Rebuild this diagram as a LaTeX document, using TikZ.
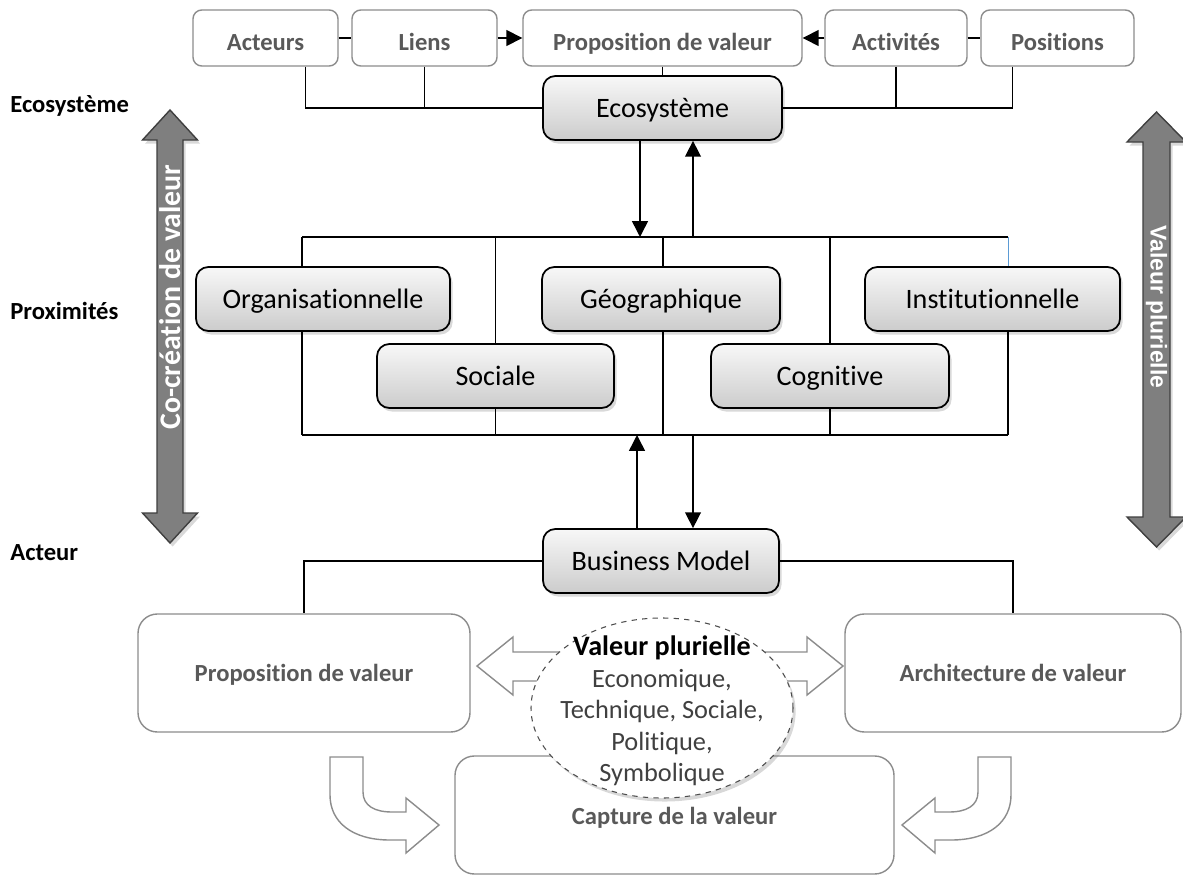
\documentclass[tikz,border=0pt]{standalone}
\usepackage{fontspec}
\setmainfont{Carlito}[Ligatures=NoCommon]
\newfontfamily\arialfont{Liberation Sans}
\usetikzlibrary{arrows.meta,shadows,shapes.geometric}
\definecolor{boxgrey}{HTML}{8C8C8C}
\definecolor{txtgrey}{HTML}{595959}
\definecolor{arrgrey}{HTML}{7F7F7F}
\definecolor{arrdark}{HTML}{3F3F3F}
\definecolor{elltxt}{HTML}{404040}
\definecolor{thinblue}{HTML}{5B9BD5}
\def\pxu{0.02cm}
\tikzset{
  topbox/.style={draw=boxgrey, line width=0.8pt, fill=white, rounded corners=5pt, text=txtgrey,
    font=\bfseries\fontsize{14}{17}\selectfont, minimum height=56*\pxu, inner sep=0pt,
    text height=1.4em, text depth=0pt},
  proxbox/.style={draw=black, line width=1pt, rounded corners=7pt, top color=gray!6, bottom color=gray!40,
    drop shadow={opacity=0.3, shadow xshift=1.5pt, shadow yshift=-2pt},
    font=\fontsize{16}{19}\selectfont, minimum height=64*\pxu, inner sep=0pt,
    text height=1.1em, text depth=0pt},
  bigbox/.style={draw=boxgrey, line width=0.8pt, fill=white, rounded corners=11pt, text=txtgrey,
    font=\bfseries\fontsize{14}{17}\selectfont, minimum height=118*\pxu, inner sep=0pt,
    text height=1.0em, text depth=0pt},
  levellabel/.style={anchor=west, font=\bfseries\fontsize{14}{17}\selectfont, inner sep=0pt},
  conn/.style={draw=black, line width=0.85pt},
  arr/.style={conn, -{Triangle[length=9pt,width=9pt]}},
  hollow/.style={draw=boxgrey, line width=0.8pt, fill=white, line join=miter},
  bigarrow/.style={draw=arrdark, line width=0.8pt, fill=arrgrey,
    drop shadow={opacity=0.3, shadow xshift=1.5pt, shadow yshift=-2pt}}
}
\begin{document}
\begin{tikzpicture}[x=0.02cm, y=-0.02cm]
\useasboundingbox (0,0) rectangle (1183,875);
% level labels
\node[levellabel] (lecosys) at (10,106) {Ecosystème};
\node[levellabel] (lprox) at (10,311) {Proximités};
\node[levellabel] (lacteur) at (10,553) {Acteur};
% big double arrows on both sides
\draw[bigarrow] (170,110) -- (197.5,140) -- (183,140) -- (183,513) -- (197.5,513) -- (170,543)
  -- (142.5,513) -- (157,513) -- (157,140) -- (142.5,140) -- cycle;
\node[rotate=90, text=white, font=\bfseries\fontsize{17}{20}\selectfont] (cocrea) at (170,297) {Co-création de valeur};
\draw[bigarrow] (1156.5,112) -- (1186,142) -- (1170,142) -- (1170,517) -- (1186,517) -- (1156.5,547)
  -- (1127,517) -- (1143,517) -- (1143,142) -- (1127,142) -- cycle;
\node[rotate=-90, text=white, font=\arialfont\bfseries\fontsize{13}{16}\selectfont] (valplur) at (1156.5,307) {Valeur plurielle};
% top row
\node[topbox, minimum width=145*\pxu] (acteurs) at (265.5,38) {Acteurs};
\node[topbox, minimum width=145*\pxu] (liens) at (424.5,38) {Liens};
\node[topbox, minimum width=279*\pxu] (propv) at (662.5,38) {Proposition de valeur};
\node[topbox, minimum width=142*\pxu] (activ) at (896,38) {Activités};
\node[topbox, minimum width=153*\pxu] (posit) at (1057.5,38) {Positions};
\draw[conn] (acteurs) -- (liens);
\draw[arr] (liens) -- (propv);
\draw[arr] (activ) -- (propv);
\draw[conn] (activ) -- (posit);
% ecosystem
\node[proxbox, minimum width=239*\pxu] (eco) at (662.5,108) {Ecosystème};
\draw[conn] (propv) -- (eco);
\draw[conn] ([xshift=0.8cm]acteurs.south) |- (eco.west);
\draw[conn] (liens.south) -- (liens.south |- eco.west);
\draw[conn] ([xshift=-0.9cm]posit.south) |- (eco.east);
\draw[conn] (activ.south) -- (activ.south |- eco.east);
% proximities
\node[proxbox, minimum width=254*\pxu] (org) at (323,299) {Organisationnelle};
\node[proxbox, minimum width=238*\pxu] (geo) at (661,299) {Géographique};
\node[proxbox, minimum width=255*\pxu] (inst) at (992.5,299) {Institutionnelle};
\node[proxbox, minimum width=237*\pxu] (soc) at (495.5,376) {Sociale};
\node[proxbox, minimum width=238*\pxu] (cog) at (830,376) {Cognitive};
\coordinate (ftl) at (302,237);
\coordinate (ftr) at (1008,237);
\coordinate (fbl) at (302,435);
\coordinate (fbr) at (1008,435);
\draw[conn] (ftl) -- (ftr);
\draw[conn] (fbl) -- (fbr);
\draw[conn] (ftl) -- (ftl |- org.north);
\draw[conn] (ftl |- org.south) -- (fbl);
\draw[conn] (soc.north) -- (soc.north |- ftl);
\draw[conn] (soc.south) -- (soc.south |- fbl);
\draw[conn] ([xshift=0.04cm]geo.north) -- ([xshift=0.04cm]geo.north |- ftl);
\draw[conn] ([xshift=0.04cm]geo.south) -- ([xshift=0.04cm]geo.south |- fbl);
\draw[conn] (cog.north) -- (cog.north |- ftl);
\draw[conn] (cog.south) -- (cog.south |- fbl);
\draw[thinblue, line width=0.5pt] (ftr) -- (ftr |- inst.north);
\draw[conn] (fbr |- inst.south) -- (fbr);
% links to ecosystem and business model
\coordinate (ed) at (640,237);
\coordinate (eu) at (693,237);
\coordinate (bu) at (637,435);
\coordinate (bd) at (693,435);
\draw[arr] (ed |- eco.south) -- (ed);
\draw[arr] (eu) -- (eu |- eco.south);
\node[proxbox, minimum width=236*\pxu] (bm) at (661,561) {Business Model};
\draw[arr] (bu |- bm.north) -- (bu);
\draw[arr] (bd) -- (bd |- bm.north);
% actor level
\node[bigbox, minimum width=332*\pxu] (pv) at (304,673) {Proposition de valeur};
\node[bigbox, minimum width=336*\pxu] (av) at (1013,673) {Architecture de valeur};
\node[bigbox, minimum width=439*\pxu, text height=1.12em] (cap) at (674.5,815) {Capture de la valeur};
\draw[conn] (bm.west) -| (pv.north);
\draw[conn] (bm.east) -| (av.north);
% hollow arrows
\draw[hollow] (477,666) -- (513,637) -- (513,652) -- (585,652) -- (585,681) -- (513,681) -- (513,695) -- cycle;
\draw[hollow] (843,666) -- (807,637) -- (807,652) -- (740,652) -- (740,681) -- (807,681) -- (807,695) -- cycle;
\draw[hollow] (330,757) -- (363,757) -- (363,792) .. controls (363,806) and (375,812) .. (392,812) -- (406,812)
  -- (406,798) -- (439,825) -- (406,853) -- (406,840) -- (390,840) .. controls (352,840) and (330,822) .. (330,795) -- cycle;
\draw[hollow] (1011,757) -- (978,757) -- (978,792) .. controls (978,806) and (966,812) .. (949,812) -- (935,812)
  -- (935,798) -- (902,825) -- (935,853) -- (935,840) -- (951,840) .. controls (989,840) and (1011,822) .. (1011,795) -- cycle;
% plural value
\node[ellipse, draw=gray!60!black, dashed, line width=0.6pt, fill=white, minimum width=262*\pxu, minimum height=180*\pxu,
  drop shadow={opacity=0.3, shadow xshift=1.5pt, shadow yshift=-2pt}] (vp) at (662,708) {};
\node[align=center, text=elltxt, font=\fontsize{15}{18}\selectfont] (vptxt) at ([yshift=-0.06cm]vp.center)
  {{\color{black}\bfseries\fontsize{16}{18}\selectfont Valeur plurielle}\\Economique,\\Technique, Sociale,\\Politique,\\Symbolique};
\end{tikzpicture}
\end{document}
